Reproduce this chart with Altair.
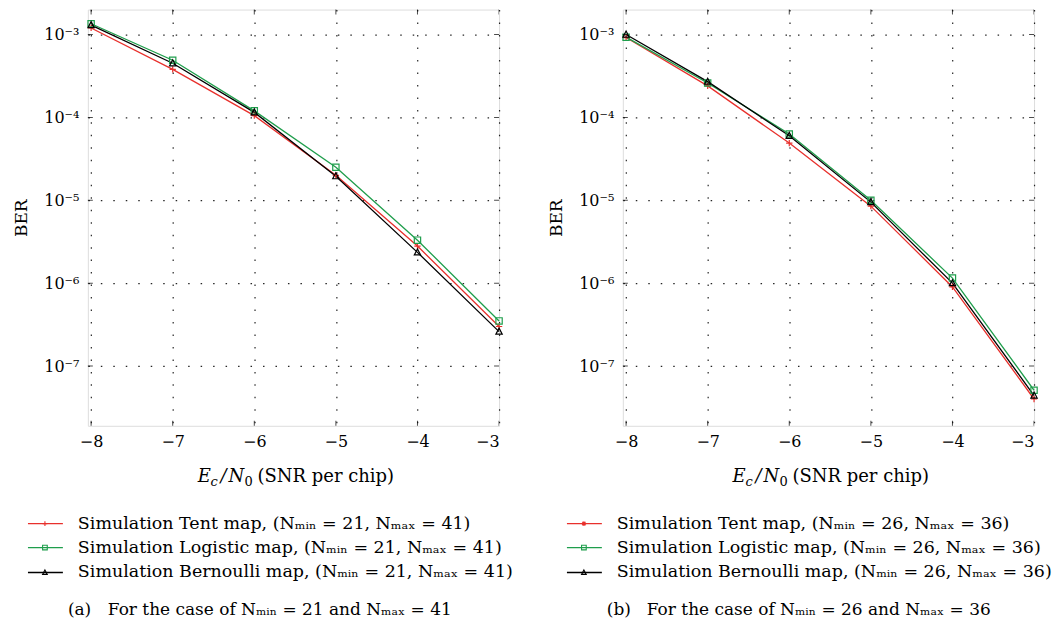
import altair as alt
import pandas as pd

# ---------------- data ----------------
snr = [-8, -7, -6, -5, -4, -3]

tent_a = [1.2e-3, 3.8e-4, 1.05e-4, 2.0e-5, 2.8e-6, 3.0e-7]
logi_a = [1.35e-3, 4.9e-4, 1.2e-4, 2.5e-5, 3.3e-6, 3.5e-7]
bern_a = [1.3e-3, 4.5e-4, 1.15e-4, 1.95e-5, 2.35e-6, 2.6e-7]

tent_b = [0.92e-3, 2.4e-4, 4.9e-5, 8.5e-6, 9.0e-7, 4.0e-8]
logi_b = [0.93e-3, 2.6e-4, 6.3e-5, 1.0e-5, 1.15e-6, 5.1e-8]
bern_b = [1.0e-3, 2.7e-4, 6.0e-5, 9.5e-6, 1.0e-6, 4.4e-8]

series = ["Tent", "Logistic", "Bernoulli"]
colors = ["#e8302c", "#1f9e4c", "#000000"]
decades = [1e-3, 1e-4, 1e-5, 1e-6, 1e-7]

W, H = 412, 417
FONT = "DejaVu Serif"
Y_DOM = [1.9e-8, 2.0e-3]
X_DOM = [-8.04, -3.0]

PLUS = "M-1,0L1,0M0,-1L0,1"
STAR = "M-1,0L1,0M0,-1L0,1M-0.7,-0.7L0.7,0.7M-0.7,0.7L0.7,-0.7"
SQUARE = "M-1,-1L1,-1L1,1L-1,1Z"
TRI = "M0,-1.1L1,0.8L-1,0.8Z"

GRID = dict(grid=True, gridColor="black", gridDash=[1.5, 11], gridOpacity=0.85,
            gridWidth=1.2, ticks=False, domain=False)


def panel(tent, logi, bern, nmin, nmax, tag, tent_shape):
    rows = []
    for name, vals in zip(series, [tent, logi, bern]):
        for x, v in zip(snr, vals):
            rows.append({"snr": x, "ber": v, "series": name})
    df = pd.DataFrame(rows)

    xs = alt.Scale(domain=X_DOM, nice=False, zero=False)
    ys = alt.Scale(type="log", domain=Y_DOM, nice=False)
    cs = alt.Scale(domain=series, range=colors)
    ss = alt.Scale(domain=series, range=[tent_shape, SQUARE, TRI])

    label_expr = (
        "datum.value > 5e-4 ? '10⁻³' : datum.value > 5e-5 ? '10⁻⁴' : "
        "datum.value > 5e-6 ? '10⁻⁵' : datum.value > 5e-7 ? '10⁻⁶' : '10⁻⁷'"
    )

    base = alt.Chart(df)
    xaxis = alt.Axis(values=snr, title=None, format="d", labelPadding=8,
                     labelFontSize=16, labelFont=FONT, labelColor="black", **GRID)
    yaxis = alt.Axis(values=decades, title="BER", labelExpr=label_expr, labelPadding=9,
                     labelFontSize=16, labelFont=FONT, labelColor="black",
                     titleFont=FONT, titleFontSize=17, titleFontWeight="normal",
                     titleColor="black", titlePadding=13, **GRID)
    lines = base.mark_line(strokeWidth=1.3).encode(
        x=alt.X("snr:Q", scale=xs, axis=xaxis),
        y=alt.Y("ber:Q", scale=ys, axis=yaxis),
        color=alt.Color("series:N", scale=cs, legend=None),
        detail="series:N",
    )
    pts = base.mark_point(filled=False, strokeWidth=1.2, size=40, opacity=1).encode(
        x=alt.X("snr:Q", scale=xs, axis=xaxis),
        y=alt.Y("ber:Q", scale=ys, axis=yaxis),
        color=alt.Color("series:N", scale=cs, legend=None),
        shape=alt.Shape("series:N", scale=ss, legend=None),
    )

    # inward frame ticks
    dec_df = pd.DataFrame({"v": decades})
    snr_df = pd.DataFrame({"s": snr})
    tk = dict(color="black", size=10, thickness=1, clip=True)
    yt_l = alt.Chart(dec_df).mark_tick(**tk).encode(
        y=alt.Y("v:Q", scale=ys, axis=yaxis), x=alt.value(0))
    yt_r = alt.Chart(dec_df).mark_tick(**tk).encode(
        y=alt.Y("v:Q", scale=ys, axis=yaxis), x=alt.value(W))
    xt_b = alt.Chart(snr_df).mark_tick(**tk).encode(
        x=alt.X("s:Q", scale=xs, axis=xaxis), y=alt.value(H))
    xt_t = alt.Chart(snr_df).mark_tick(**tk).encode(
        x=alt.X("s:Q", scale=xs, axis=xaxis), y=alt.value(0))

    one = pd.DataFrame({"a": [0]})

    def txt(t, x, y, size=18, style="normal", align="left", color="black"):
        return alt.Chart(one).mark_text(
            text=t, font=FONT, fontSize=size, fontStyle=style, align=align,
            baseline="alphabetic", color=color,
        ).encode(x=alt.value(x), y=alt.value(y))

    # x-axis title in pieces (E_c / N_0)
    tb = H + 56
    title_parts = [
        txt("E", 110, tb, 18, "italic"),
        txt("c", 123, tb + 4, 13, "italic"),
        txt("/", 133, tb, 18, "italic"),
        txt("N", 141, tb, 18, "italic"),
        txt("0", 157, tb + 4, 13),
        txt("(SNR per chip)", 170, tb, 18),
    ]

    # legend
    leg = []
    leg_y = [H + 98, H + 122, H + 147]
    shapes = [tent_shape, SQUARE, TRI]
    off = -60 if tag == "a" else -56
    for i, name in enumerate(series):
        yv = leg_y[i]
        leg.append(alt.Chart(one).mark_rule(color=colors[i], strokeWidth=1.3).encode(
            x=alt.value(off), x2=alt.value(off + 35), y=alt.value(yv), y2=alt.value(yv)))
        leg.append(alt.Chart(one).mark_point(
            shape=shapes[i], color=colors[i], filled=False, size=22, strokeWidth=1.1, opacity=1
        ).encode(x=alt.value(off + 17), y=alt.value(yv)))
        label = f"Simulation {name} map, (Nₘᵢₙ = {nmin}, Nₘₐₓ = {nmax})"
        leg.append(alt.Chart(one).mark_text(
            text=label, font=FONT, fontSize=17.5, align="left", baseline="middle", color="black"
        ).encode(x=alt.value(off + 50), y=alt.value(yv)))

    cap_y = H + 190
    cap_x = -20 if tag == "a" else -16
    cap = [
        txt(f"({tag})", cap_x, cap_y, 17),
        txt(f"For the case of Nₘᵢₙ = {nmin} and Nₘₐₓ = {nmax}", cap_x + 40, cap_y, 17),
    ]

    return alt.layer(lines, pts, yt_l, yt_r, xt_b, xt_t, *title_parts, *leg, *cap).properties(
        width=W, height=H)


left = panel(tent_a, logi_a, bern_a, 21, 41, "a", PLUS)
right = panel(tent_b, logi_b, bern_b, 26, 36, "b", STAR)

chart = alt.hconcat(left, right, spacing=124, bounds="flush").properties(
    padding={"left": 4, "top": 0, "right": 0, "bottom": 0}
).configure_view(
    stroke="black", strokeWidth=1.5
).configure_axis(
    gridColor="black", gridDash=[1.5, 11], gridOpacity=0.85, gridWidth=1.2,
    labelFont=FONT, titleFont=FONT
).configure(background="white")

chart.save("out.html", embed_options={"renderer": "svg", "actions": False})
